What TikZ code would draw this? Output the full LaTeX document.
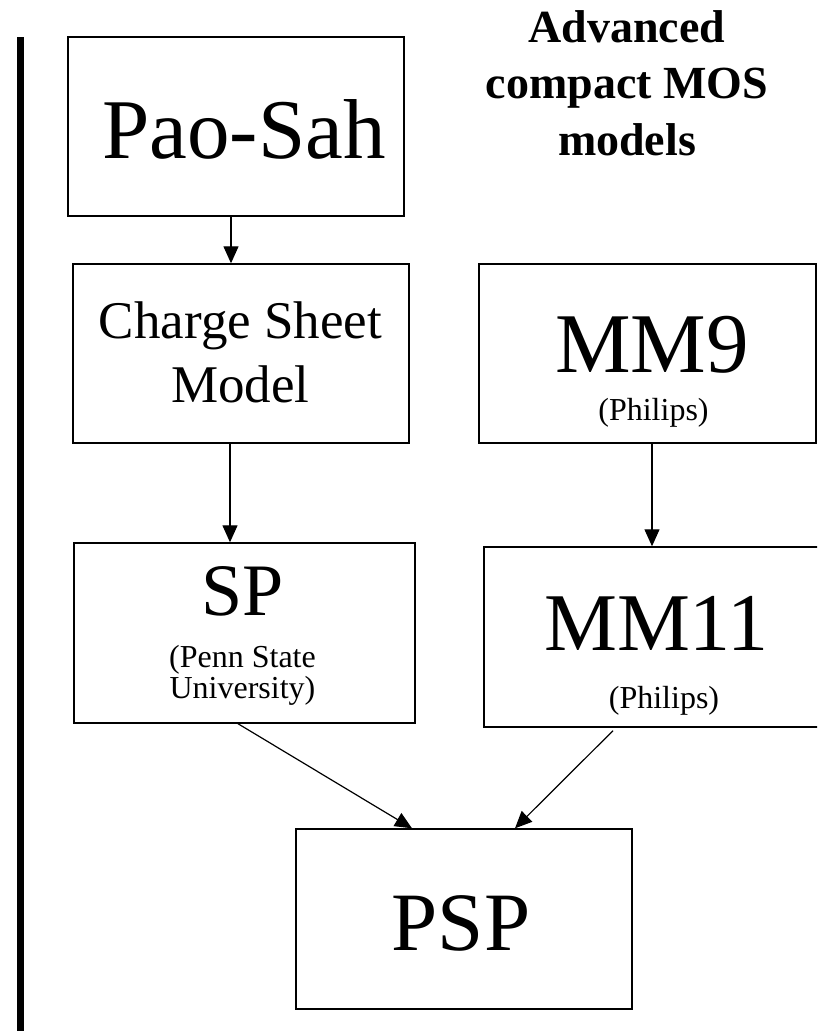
\documentclass[tikz,border=0pt]{standalone}
\usepackage{fontspec}
\setmainfont{Liberation Serif}
\usepackage{tikz}
\usetikzlibrary{arrows.meta}

\begin{document}
\begin{tikzpicture}[x=1pt,y=-1pt,
  box/.style={draw,line width=1.4pt,inner sep=0pt},
  arr/.style={-{Triangle[length=17pt,width=15pt]},line width=1.2pt},
  txt/.style={inner sep=0pt,anchor=base}]
  % 영역
  \clip (0,0) rectangle (817,1031);
  % 왼쪽 막대
  \fill (17,37) rectangle (24,1031);
  % 제목 (base = 마지막 줄)
  \node[txt,font=\fontsize{46}{56.5}\selectfont\bfseries,align=center] (title) at (627,155) {Advanced\\compact MOS\\models};
  % 상자
  \node[box,minimum width=336pt,minimum height=179pt] (paosah) at (236,126.5) {};
  \node[box,minimum width=336pt,minimum height=179pt] (charge) at (241,353.5) {};
  \node[box,minimum width=337pt,minimum height=179pt] (mm9) at (647.5,353.5) {};
  \node[box,minimum width=341pt,minimum height=180pt] (sp) at (244.5,633) {};
  \node[box,minimum width=352pt,minimum height=180pt] (mm11) at (660,637) {};
  \node[box,minimum width=336pt,minimum height=180pt] (psp) at (464,919) {};
  % 글자
  \node[txt,font=\fontsize{85}{90}\selectfont] (paosahlbl) at (244,158) {Pao-Sah};
  \node[txt,font=\fontsize{53}{64}\selectfont,align=center] (chargelbl) at (240.5,402) {Charge Sheet\\Model};
  \node[txt,font=\fontsize{85}{90}\selectfont] (mm9lbl) at (652,372) {MM9};
  \node[txt,font=\fontsize{32}{28}\selectfont] (mm9sub) at (653.5,420) {(Philips)};
  \node[txt,font=\fontsize{74}{80}\selectfont] (splbl) at (243,615) {SP};
  \node[txt,font=\fontsize{32}{28}\selectfont,align=center] (spsub) at (242.5,698) {(Penn State\\University)};
  \node[txt,font=\fontsize{82}{90}\selectfont] (mm11lbl) at (656.5,650) {MM11};
  \node[txt,font=\fontsize{32}{28}\selectfont] (mm11sub) at (664,708) {(Philips)};
  \node[txt,font=\fontsize{83}{90}\selectfont] (psplbl) at (461,950) {PSP};
  % 화살표
  \draw[arr] ([xshift=-5pt]paosah.south) -- ([xshift=-5pt]paosah.south |- charge.north);
  \draw[arr] ([xshift=-11pt]charge.south) -- ([xshift=-11pt]charge.south |- sp.north);
  \draw[arr] ([xshift=4.5pt]mm9.south) -- ([xshift=4.5pt]mm9.south |- mm11.north);
  \draw[arr] ([xshift=-6.5pt]sp.south) -- ([xshift=-52pt]psp.north);
  \draw[arr] ([xshift=-47pt,yshift=-3pt]mm11.south) -- ([xshift=51pt]psp.north);
\end{tikzpicture}
\end{document}
